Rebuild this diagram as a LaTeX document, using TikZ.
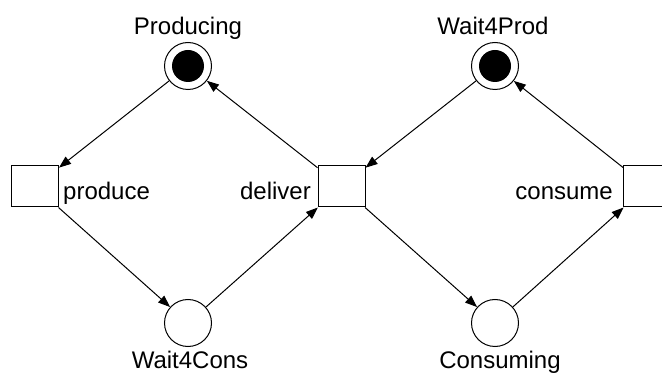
\documentclass[tikz,border=0pt]{standalone}
\usepackage{fontspec}
\setmainfont{Liberation Sans}
\usetikzlibrary{arrows.meta}
\begin{document}
\begin{tikzpicture}[x=1pt,y=-1pt,
  place/.style={circle,draw,line width=1pt,minimum size=47pt,inner sep=0pt},
  trans/.style={rectangle,draw,line width=1pt,minimum width=47pt,minimum height=41pt,inner sep=0pt},
  token/.style={circle,fill=black,minimum size=32pt,inner sep=0pt},
  lbl/.style={font=\fontsize{24}{28}\selectfont,inner sep=0pt},
  arc/.style={line width=1pt,-{Triangle[length=12pt,width=9pt]}}]
\useasboundingbox (0,0) rectangle (662,374);
\clip (0,0) rectangle (662,374);
\node[place] (producing) at (188,66) {};
\node[token] (tok1) at (producing.center) {};
\node[place] (wait4prod) at (495,66) {};
\node[token] (tok2) at (wait4prod.center) {};
\node[place] (wait4cons) at (188,323) {};
\node[place] (consuming) at (495,323) {};
\node[trans] (produce) at (35,186.5) {};
\node[trans] (deliver) at (341.5,186.5) {};
\node[trans] (consume) at (647,186.5) {};
\node[lbl,anchor=base] (lproducing) at (188,35) {Producing};
\node[lbl,anchor=base] (lwait4prod) at (493,35) {Wait4Prod};
\node[lbl,anchor=base] (lwait4cons) at (190,368) {Wait4Cons};
\node[lbl,anchor=base] (lconsuming) at (500,368) {Consuming};
\node[lbl,anchor=base west] (lproduce) at (63,200) {produce};
\node[lbl,anchor=base east] (ldeliver) at (311,200) {deliver};
\node[lbl,anchor=base east] (lconsume) at (613,200) {consume};
\draw[arc] (producing) -- (produce);
\draw[arc] (produce) -- (wait4cons);
\draw[arc] (wait4cons) -- (deliver);
\draw[arc] (deliver) -- (producing);
\draw[arc] (wait4prod) -- (deliver);
\draw[arc] (deliver) -- (consuming);
\draw[arc] (consuming) -- (consume);
\draw[arc] (consume) -- (wait4prod);
\end{tikzpicture}
\end{document}
